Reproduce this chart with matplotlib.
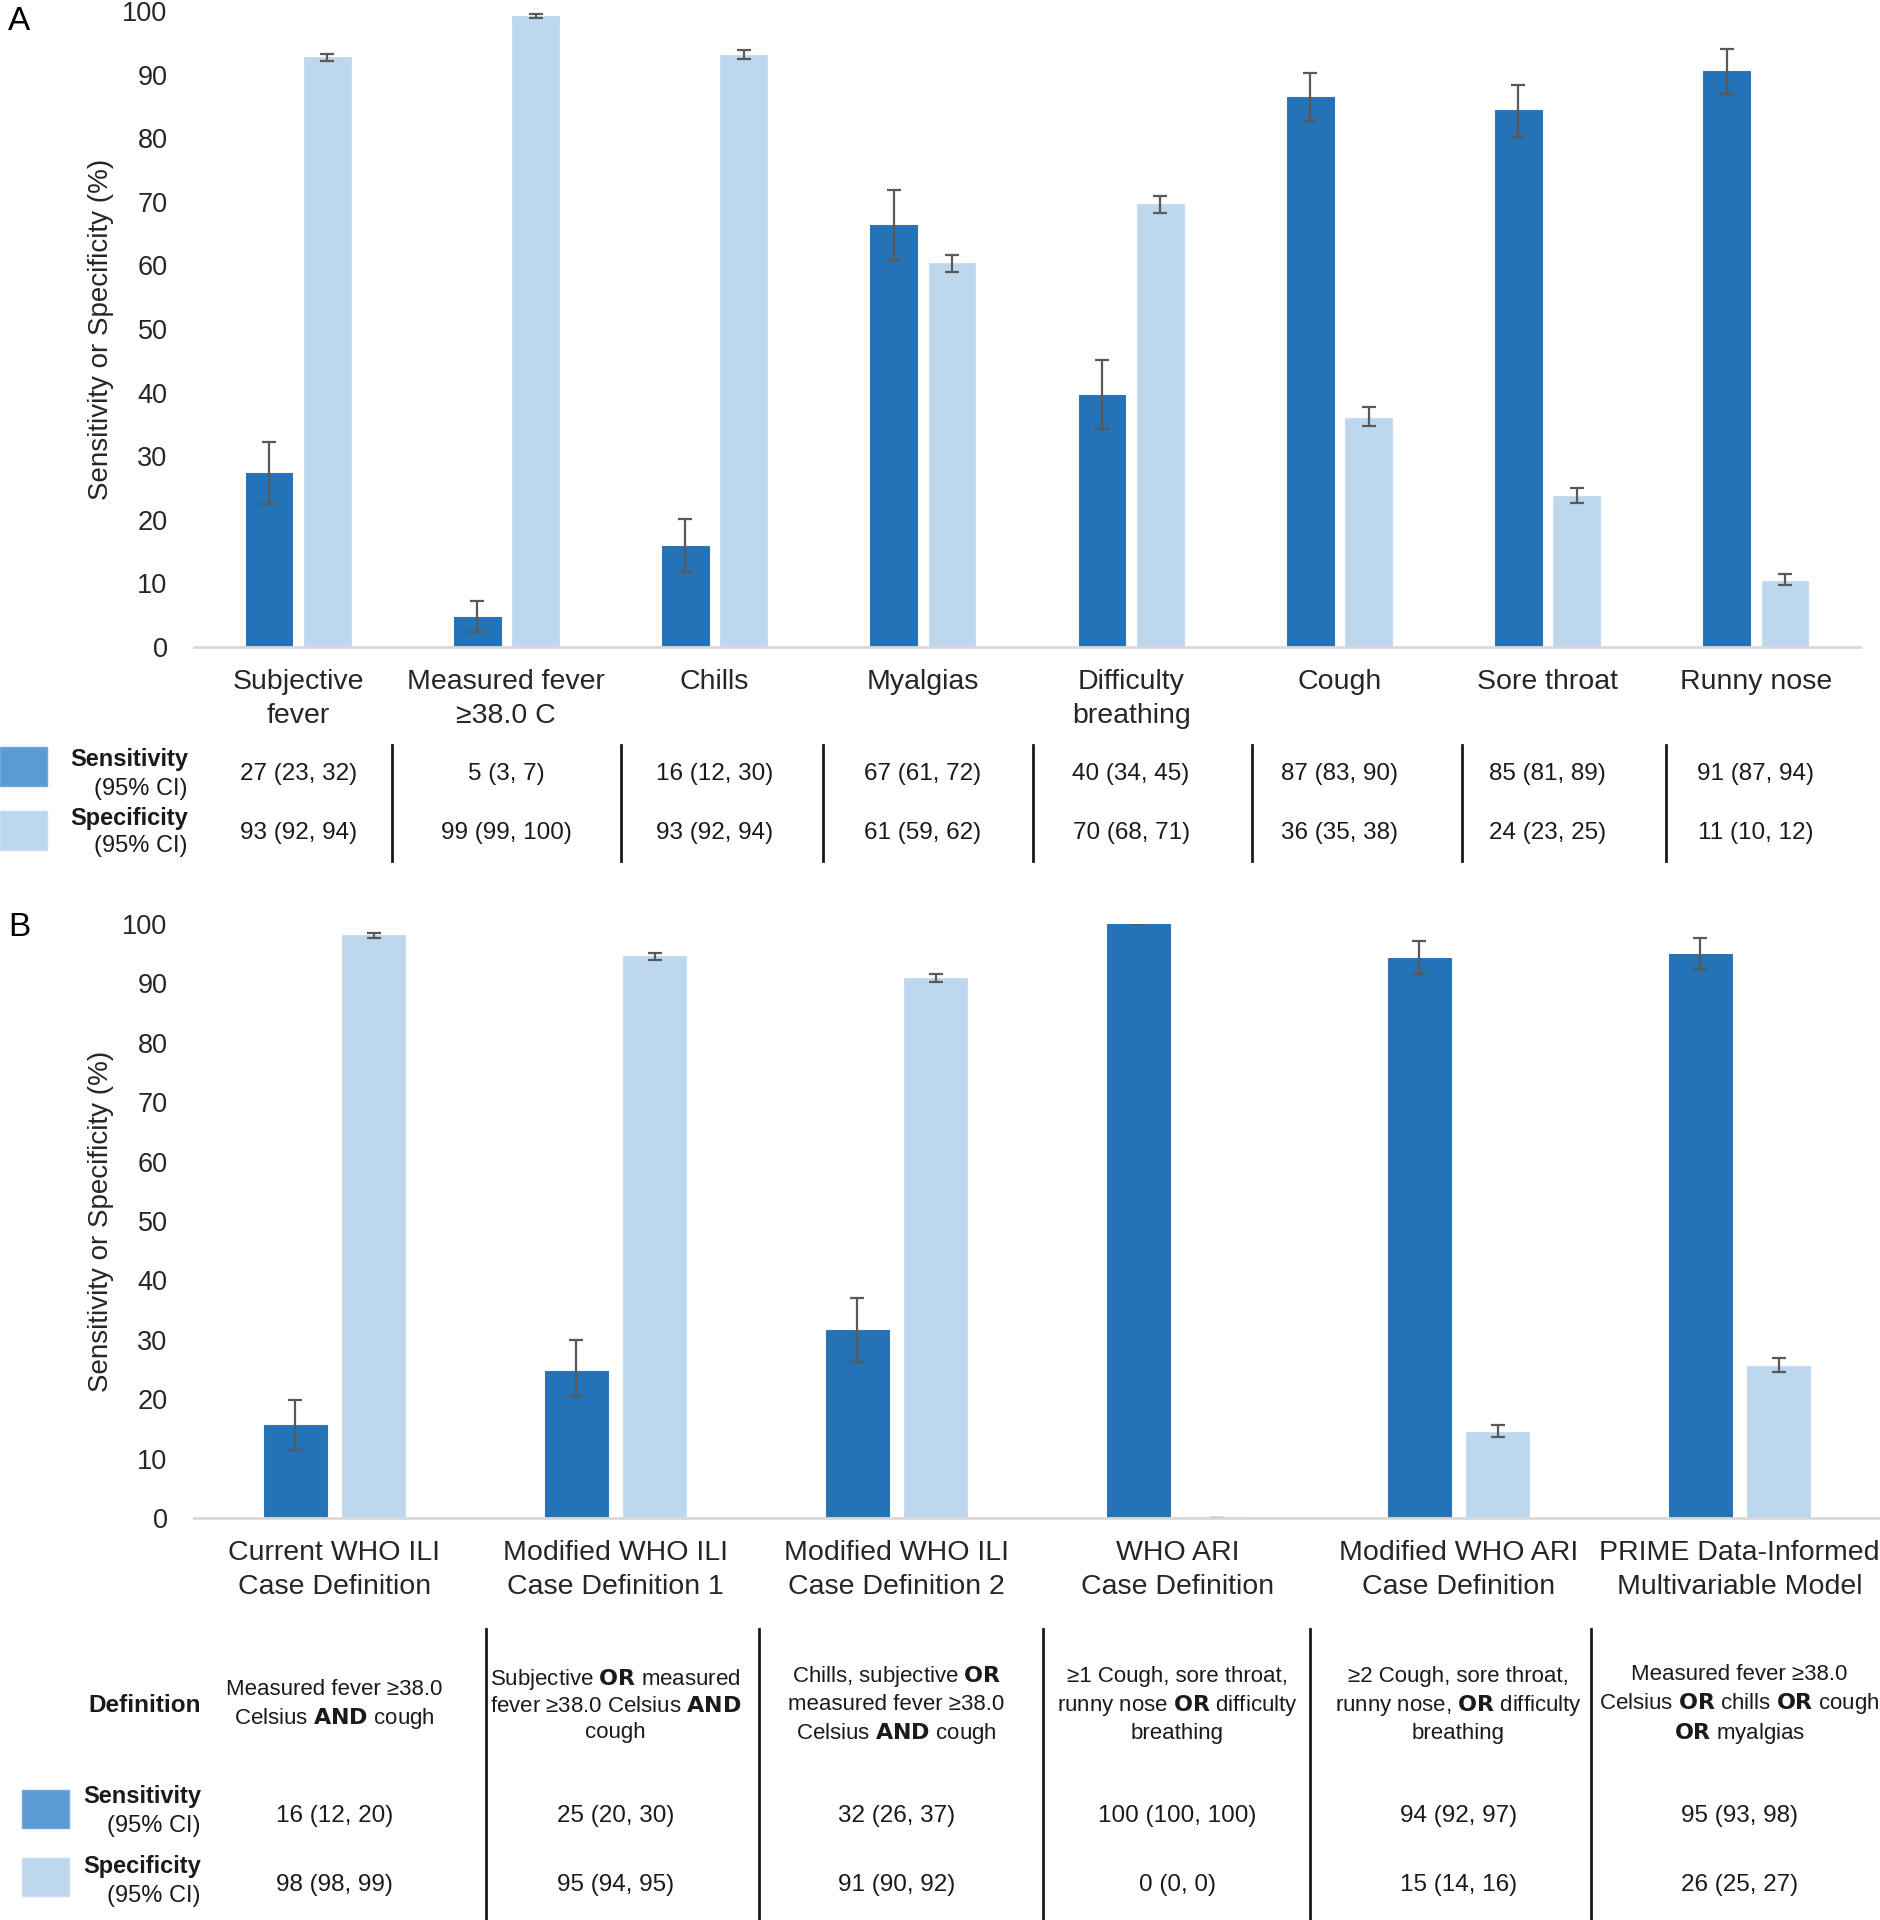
import numpy as np
import matplotlib
matplotlib.use("Agg")
import matplotlib.pyplot as plt
from matplotlib.lines import Line2D
from matplotlib.patches import Rectangle
from matplotlib.transforms import blended_transform_factory

plt.rcParams['font.family'] = ['Liberation Sans', 'DejaVu Sans']

# ---- panel A data (single symptoms) ----
symptoms = ["Subjective\nfever", "Measured fever\n\u226538.0 C", "Chills", "Myalgias",
            "Difficulty\nbreathing", "Cough", "Sore throat", "Runny nose"]
sensA = [27.4, 4.7, 15.9, 66.3, 39.6, 86.5, 84.4, 90.6]
sensA_lo = [22.5, 2.4, 11.8, 60.9, 34.3, 82.7, 80.2, 86.9]
sensA_hi = [32.3, 7.2, 20.2, 71.9, 45.1, 90.2, 88.4, 94.0]
specA = [92.7, 99.2, 93.1, 60.3, 69.6, 36.0, 23.7, 10.4]
specA_lo = [92.1, 98.9, 92.4, 58.9, 68.3, 34.8, 22.6, 9.8]
specA_hi = [93.3, 99.5, 93.8, 61.6, 70.9, 37.7, 25.0, 11.5]
sensA_txt = ["27 (23, 32)", "5 (3, 7)", "16 (12, 30)", "67 (61, 72)",
             "40 (34, 45)", "87 (83, 90)", "85 (81, 89)", "91 (87, 94)"]
specA_txt = ["93 (92, 94)", "99 (99, 100)", "93 (92, 94)", "61 (59, 62)",
             "70 (68, 71)", "36 (35, 38)", "24 (23, 25)", "11 (10, 12)"]
# table column dividers (in category units)
sepA = [0.45, 1.55, 2.52, 3.53, 4.58, 5.59, 6.57]

# ---- panel B data (case definitions) ----
defs = ["Current WHO ILI\nCase Definition", "Modified WHO ILI\nCase Definition 1",
        "Modified WHO ILI\nCase Definition 2", "WHO ARI\nCase Definition",
        "Modified WHO ARI\nCase Definition", "PRIME Data-Informed\nMultivariable Model"]
sensB = [15.7, 24.8, 31.6, 100.0, 94.2, 95.0]
sensB_lo = [11.4, 20.5, 26.2, 100.0, 91.5, 92.4]
sensB_hi = [19.8, 30.0, 37.0, 100.0, 97.1, 97.7]
specB = [98.1, 94.6, 90.9, 0.0, 14.5, 25.6]
specB_lo = [97.7, 94.0, 90.3, 0.0, 13.6, 24.6]
specB_hi = [98.5, 95.2, 91.6, 0.0, 15.6, 27.0]
defB_txt = ["Measured fever \u226538.0\nCelsius $\\bf{AND}$ cough",
            "Subjective $\\bf{OR}$ measured\nfever \u226538.0 Celsius $\\bf{AND}$\ncough",
            "Chills, subjective $\\bf{OR}$\nmeasured fever \u226538.0\nCelsius $\\bf{AND}$ cough",
            "\u22651 Cough, sore throat,\nrunny nose $\\bf{OR}$ difficulty\nbreathing",
            "\u22652 Cough, sore throat,\nrunny nose, $\\bf{OR}$ difficulty\nbreathing",
            "Measured fever \u226538.0\nCelsius $\\bf{OR}$ chills $\\bf{OR}$ cough\n$\\bf{OR}$ myalgias"]
sensB_txt = ["16 (12, 20)", "25 (20, 30)", "32 (26, 37)", "100 (100, 100)", "94 (92, 97)", "95 (93, 98)"]
specB_txt = ["98 (98, 99)", "95 (94, 95)", "91 (90, 92)", "0 (0, 0)", "15 (14, 16)", "26 (25, 27)"]
sepB = [0.54, 1.51, 2.52, 3.47, 4.47]

DARK = '#2473B6'
LIGHT = '#BDD7EE'
LEG_DARK = '#5B9BD5'
W, H = 1881, 1920

def fx(px):
    return px / W

def fy(px):
    return 1 - px / H

fig = plt.figure(figsize=(W / 100, H / 100), dpi=100)


def bar_panel(rect, labels, sens, s_lo, s_hi, spec, p_lo, p_hi, labelpad_px):
    ax = fig.add_axes(rect)
    x = np.arange(len(labels))
    sens, spec = np.array(sens), np.array(spec)
    ax.bar(x - 0.14, sens, width=0.224, color=DARK, edgecolor='#2E78BA', linewidth=0.8)
    ax.bar(x + 0.14, spec, width=0.224, color=LIGHT, edgecolor='#C8DDF1', linewidth=0.8)
    ax.errorbar(x - 0.14, sens, yerr=[sens - np.array(s_lo), np.array(s_hi) - sens],
                fmt='none', ecolor='#595959', elinewidth=1.6, capsize=5, capthick=1.6)
    ax.errorbar(x + 0.14, spec, yerr=[spec - np.array(p_lo), np.array(p_hi) - spec],
                fmt='none', ecolor='#595959', elinewidth=1.6, capsize=5, capthick=1.6)
    ax.set_xlim(-0.5, len(labels) - 0.5)
    ax.set_ylim(0, 100)
    ax.set_yticks(range(0, 101, 10))
    ax.set_xticks(x)
    ax.set_xticklabels(labels, fontsize=20.5, color='#262626', linespacing=1.38)
    ax.tick_params(axis='y', length=0, pad=19, labelsize=19.5, labelcolor='#262626')
    ax.tick_params(axis='x', length=0, pad=labelpad_px * 0.72)
    for s in ['top', 'right', 'left']:
        ax.spines[s].set_visible(False)
    ax.spines['bottom'].set_color('#D9D9D9')
    ax.spines['bottom'].set_linewidth(2)
    ax.set_ylabel("Sensitivity or Specificity (%)", fontsize=20, color='#262626')
    axw = rect[2] * W
    ax.yaxis.set_label_coords((114 - rect[0] * W) / axw, 0.5)
    return ax


# ---------------- panel A ----------------
axA = bar_panel([fx(194), fy(647), fx(1860) - fx(194), fy(11) - fy(647)], symptoms,
                sensA, sensA_lo, sensA_hi, specA, specA_lo, specA_hi, 22)
fig.text(fx(8), fy(6), "A", fontsize=24, va='top', ha='left')
trA = blended_transform_factory(axA.transData, fig.transFigure)
for i in range(len(symptoms)):
    axA.text(i, fy(774), sensA_txt[i], transform=trA, ha='center', va='center', fontsize=17.5, color='#1a1a1a')
    axA.text(i, fy(833), specA_txt[i], transform=trA, ha='center', va='center', fontsize=17.5, color='#1a1a1a')
for xs in sepA:
    fig.add_artist(Line2D([xs, xs], [fy(745), fy(861)], transform=trA, color='#1a1a1a', lw=2))

fig.add_artist(Rectangle((fx(0), fy(786)), fx(47), 39 / H, transform=fig.transFigure,
                         facecolor=LEG_DARK, edgecolor='#6FA8DC', lw=1))
fig.add_artist(Rectangle((fx(0), fy(850)), fx(47), 39 / H, transform=fig.transFigure,
                         facecolor=LIGHT, edgecolor='#C8DDF1', lw=1))
fig.text(fx(188), fy(760), "Sensitivity", ha='right', va='center', fontsize=17, fontweight='bold', color='#1a1a1a')
fig.text(fx(188), fy(789), "(95% CI)", ha='right', va='center', fontsize=17, color='#1a1a1a')
fig.text(fx(188), fy(818), "Specificity", ha='right', va='center', fontsize=17, fontweight='bold', color='#1a1a1a')
fig.text(fx(188), fy(846), "(95% CI)", ha='right', va='center', fontsize=17, color='#1a1a1a')

# ---------------- panel B ----------------
axB = bar_panel([fx(194), fy(1518), fx(1880) - fx(194), fy(924) - fy(1518)], defs,
                sensB, sensB_lo, sensB_hi, specB, specB_lo, specB_hi, 22)
fig.text(fx(8), fy(912), "B", fontsize=24, va='top', ha='left')
trB = blended_transform_factory(axB.transData, fig.transFigure)
for i in range(len(defs)):
    axB.text(i, fy(1705), defB_txt[i], transform=trB, ha='center', va='center', fontsize=16,
             linespacing=1.3, color='#1a1a1a')
    axB.text(i, fy(1816), sensB_txt[i], transform=trB, ha='center', va='center', fontsize=17.5, color='#1a1a1a')
    axB.text(i, fy(1885), specB_txt[i], transform=trB, ha='center', va='center', fontsize=17.5, color='#1a1a1a')
for xs in sepB:
    fig.add_artist(Line2D([xs, xs], [fy(1629), fy(1920)], transform=trB, color='#1a1a1a', lw=2))

fig.add_artist(Rectangle((fx(22), fy(1828)), fx(47), 38 / H, transform=fig.transFigure,
                         facecolor=LEG_DARK, edgecolor='#6FA8DC', lw=1))
fig.add_artist(Rectangle((fx(22), fy(1896)), fx(47), 38 / H, transform=fig.transFigure,
                         facecolor=LIGHT, edgecolor='#C8DDF1', lw=1))
fig.text(fx(201), fy(1705), "Definition", ha='right', va='center', fontsize=17.5, fontweight='bold', color='#1a1a1a')
fig.text(fx(201), fy(1797), "Sensitivity", ha='right', va='center', fontsize=17, fontweight='bold', color='#1a1a1a')
fig.text(fx(201), fy(1826), "(95% CI)", ha='right', va='center', fontsize=17, color='#1a1a1a')
fig.text(fx(201), fy(1866), "Specificity", ha='right', va='center', fontsize=17, fontweight='bold', color='#1a1a1a')
fig.text(fx(201), fy(1896), "(95% CI)", ha='right', va='center', fontsize=17, color='#1a1a1a')

fig.savefig("out.png", dpi=100, facecolor='white')
